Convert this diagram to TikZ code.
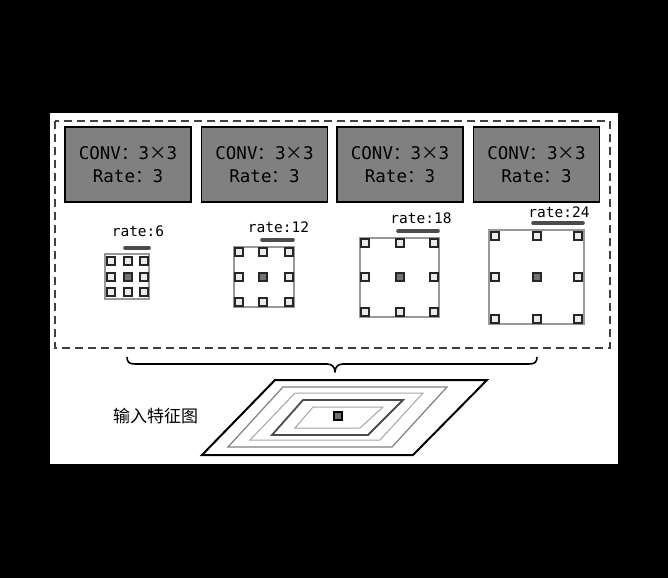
\documentclass[tikz,border=0pt]{standalone}
\usepackage{fontspec}
\setmonofont{DejaVu Sans Mono}
\newfontfamily\cjk{Noto Sans CJK SC}
\begin{document}
\begin{tikzpicture}[x=1pt,y=-1pt,
  convbox/.style={draw=black,line width=1.6pt,fill=black!50,minimum width=126pt,minimum height=75pt,inner sep=0pt,align=center,font=\fontsize{17.5}{23}\selectfont\ttfamily},
  ratelbl/.style={inner sep=0pt,font=\fontsize{14.5}{16}\selectfont\ttfamily},
  ratebar/.style={line width=3.6pt,draw=black!70,line cap=round},
  gframe/.style={draw=black!40,line width=1.8pt},
  sq/.style={draw=black!85,fill=black!8,line width=1.3pt,minimum size=8pt,inner sep=0pt},
  ctr/.style={sq,fill=black!55},
  ring/.style={line join=miter}]
\useasboundingbox (0,0) rectangle (668,578);
\fill[black] (0,0) rectangle (668,578);
\fill[white] (50,113) rectangle (618,464);
% dashed frame
\draw[black!75,line width=1.4pt,dash pattern=on 8pt off 5pt] (55,121) rectangle (610,348);
% conv boxes
\foreach \cx/\n in {128/1,264.5/2,400/3,536.5/4}{
  \node[convbox] (conv\n) at (\cx,164.5) {CONV{\cjk ：}3{\cjk ×}3\\Rate{\cjk ：}3};
}
% grids
\foreach \n/\fa/\fb/\fc/\fd/\xa/\xb/\xc/\ya/\yb/\yc/\lx/\ly/\ba/\bb/\by/\txt in {
  1/105/254/149/299/111/128/144/261/277/292/138/231/125/149/248/rate:6,
  2/234/247/294/307/239/263/289/252/277/302/278.5/227/262/293/240/rate:12,
  3/360/238/439/317/365/400/434/243/277/312/421/218.5/398/438/231/rate:18,
  4/489/230/584/324/495/537/578/236/277/319/559/212.5/533/583/223/rate:24}{
  \draw[gframe] (\fa,\fb) rectangle (\fc,\fd);
  \node[ratelbl] (lbl\n) at (\lx,\ly) {\txt};
  \coordinate (bl\n) at (\ba,\by);
  \coordinate (br\n) at (\bb,\by);
  \draw[ratebar] (bl\n) -- (br\n);
  \node[sq] (g\n-11) at (\xa,\ya) {};
  \node[sq] (g\n-21) at (\xb,\ya) {};
  \node[sq] (g\n-31) at (\xc,\ya) {};
  \node[sq] (g\n-12) at (\xa,\yb) {};
  \node[ctr] (g\n-22) at (\xb,\yb) {};
  \node[sq] (g\n-32) at (\xc,\yb) {};
  \node[sq] (g\n-13) at (\xa,\yc) {};
  \node[sq] (g\n-23) at (\xb,\yc) {};
  \node[sq] (g\n-33) at (\xc,\yc) {};
}
% brace
\coordinate (bra) at (127,357);
\coordinate (brb) at (537,357);
\coordinate (brtip) at (335,372);
\draw[black,line width=1.6pt,line join=round]
  (bra) .. controls (127,362) and (129,364) .. (135,364) -- (327,364)
  .. controls (332,364) and (335,367) .. (brtip)
  .. controls (335,367) and (338,364) .. (343,364) -- (529,364)
  .. controls (535,364) and (537,362) .. (brb);
% input feature map
\draw[ring,black,line width=2pt] (275,380) -- (487,380) -- (413,455) -- (202,455) -- cycle;
\draw[ring,black!50,line width=1.2pt] (283,387) -- (447,387) -- (392,447) -- (228,447) -- cycle;
\draw[ring,black!35,line width=1pt] (295,393) -- (423,393) -- (380,440) -- (250,440) -- cycle;
\draw[ring,black!70,line width=1.8pt] (303,400) -- (403,400) -- (368,435) -- (272,435) -- cycle;
\draw[ring,black!35,line width=1pt] (313,407) -- (383,407) -- (360,428) -- (295,428) -- cycle;
\node[ctr,draw=black] (fmc) at (338,416) {};
\node[inner sep=0pt,anchor=west,font=\fontsize{17}{19}\selectfont\cjk] (fmlbl) at (113,416) {输入特征图};
\end{tikzpicture}
\end{document}
